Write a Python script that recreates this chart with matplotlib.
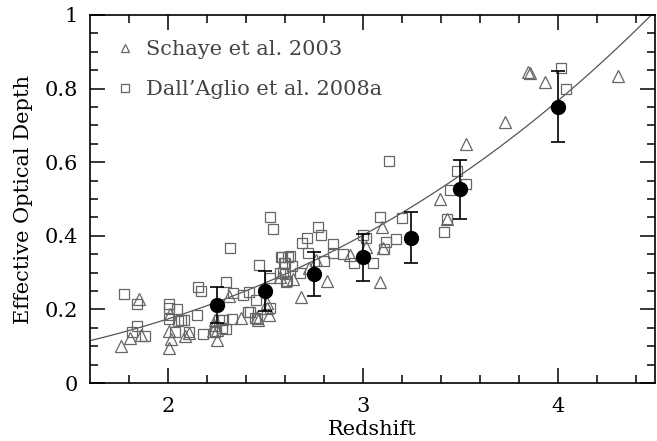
import numpy as np
import matplotlib
matplotlib.use("Agg")
import matplotlib.pyplot as plt

# Schaye et al. 2003 (triangles)
schaye_z = [1.76, 1.807, 1.85, 1.863, 2.003, 2.007, 2.009, 2.017, 2.089, 2.108,
            2.24, 2.235, 2.25, 2.23, 2.25, 2.314, 2.373, 2.455, 2.463, 2.51,
            2.51, 2.52, 2.574, 2.64, 2.682, 2.725, 2.762, 2.817, 2.933, 3.019,
            3.099, 3.104, 3.09, 3.395, 3.433, 3.528, 3.728, 3.85, 3.86, 3.933, 4.31]
schaye_tau = [0.100, 0.121, 0.228, 0.130, 0.141, 0.094, 0.187, 0.119, 0.128, 0.135,
              0.171, 0.158, 0.144, 0.141, 0.117, 0.236, 0.176, 0.180, 0.171, 0.217,
              0.203, 0.185, 0.289, 0.283, 0.233, 0.312, 0.334, 0.277, 0.348, 0.370,
              0.425, 0.366, 0.274, 0.500, 0.447, 0.649, 0.708, 0.845, 0.842, 0.817, 0.833]

# Dall'Aglio et al. 2008a (squares)
dall_z = [1.773, 1.841, 1.84, 1.815, 1.884, 2.007, 2.005, 2.048, 2.005, 2.038,
          2.05, 2.065, 2.08, 2.11, 2.154, 2.17, 2.15, 2.18, 2.24, 2.30,
          2.32, 2.335, 2.383, 2.417, 2.45, 2.468, 2.33, 2.41, 2.42, 2.446,
          2.455, 2.523, 2.523, 2.523, 2.54, 2.574, 2.578, 2.60, 2.60, 2.608,
          2.617, 2.583, 2.626, 2.597, 2.637, 2.59, 2.61, 2.677, 2.686, 2.716,
          2.72, 2.77, 2.785, 2.80, 2.845, 2.848, 2.896, 2.955, 3.00, 3.019,
          3.053, 3.09, 3.108, 3.121, 3.133, 3.173, 3.20, 3.417, 3.43, 3.449,
          3.485, 3.53, 4.019, 4.041, 2.263, 2.283, 2.275, 2.297]
dall_tau = [0.241, 0.215, 0.155, 0.139, 0.129, 0.214, 0.205, 0.202, 0.173, 0.139,
            0.168, 0.170, 0.171, 0.138, 0.261, 0.251, 0.185, 0.132, 0.138, 0.274,
            0.367, 0.244, 0.240, 0.248, 0.226, 0.321, 0.174, 0.194, 0.192, 0.176,
            0.173, 0.203, 0.284, 0.452, 0.418, 0.298, 0.343, 0.327, 0.296, 0.275,
            0.343, 0.342, 0.345, 0.327, 0.319, 0.298, 0.277, 0.298, 0.380, 0.393,
            0.352, 0.425, 0.402, 0.332, 0.377, 0.352, 0.350, 0.327, 0.402, 0.393,
            0.325, 0.450, 0.363, 0.382, 0.603, 0.391, 0.449, 0.411, 0.447, 0.524,
            0.576, 0.542, 0.855, 0.798, 0.171, 0.171, 0.149, 0.147]

# Binned measurements
bin_z = [2.25, 2.5, 2.75, 3.0, 3.25, 3.5, 4.0]
bin_tau = [0.212, 0.251, 0.296, 0.342, 0.395, 0.526, 0.751]
bin_err = [0.050, 0.054, 0.060, 0.064, 0.070, 0.080, 0.097]

# Power-law fit tau = A (1+z)^beta
fit_A = 0.0072
fit_beta = 2.9

plt.rcParams['font.family'] = ['DejaVu Serif']
fig = plt.figure(figsize=(6.57, 4.41), dpi=100)
ax = fig.add_axes([0.137, 0.1315, 0.860, 0.8345])

zz = np.linspace(1.6, 4.5, 300)
ax.plot(zz, fit_A * (1 + zz) ** fit_beta, color='#555555', lw=0.9, zorder=2)

gray = '#666666'
ax.plot(schaye_z, schaye_tau, linestyle='none', marker='^', ms=8, mfc='none',
        mec=gray, mew=0.9, label='Schaye et al. 2003', zorder=3)
ax.plot(dall_z, dall_tau, linestyle='none', marker='s', ms=6.5, mfc='none',
        mec=gray, mew=0.9, label="Dall\u2019Aglio et al. 2008a", zorder=3)

ax.errorbar(bin_z, bin_tau, yerr=bin_err, fmt='o', color='black', ms=10,
            capsize=5, elinewidth=1.2, capthick=1.2, zorder=5)

ax.set_xlim(1.6, 4.5)
ax.set_ylim(0, 1)
ax.set_xticks([2, 3, 4])
ax.set_xticklabels(['2', '3', '4'])
ax.set_xticks(np.arange(1.8, 4.5, 0.2), minor=True)
ax.set_yticks([0, 0.2, 0.4, 0.6, 0.8, 1.0])
ax.set_yticklabels(['0', '0.2', '0.4', '0.6', '0.8', '1'])
ax.set_yticks(np.arange(0, 1.0001, 0.05), minor=True)
ax.tick_params(which='both', direction='in', top=True, right=True, labelsize=15,
               width=1.1)
ax.tick_params(which='major', length=11)
ax.tick_params(axis='y', which='major', pad=9)
ax.tick_params(axis='x', which='major', pad=10)
ax.tick_params(which='minor', length=6)
for s in ax.spines.values():
    s.set_linewidth(1.2)

ax.set_xlabel('Redshift', fontsize=15, labelpad=3)
ax.set_ylabel('Effective Optical Depth', fontsize=15, labelpad=8)

leg = ax.legend(loc='upper left', frameon=False, fontsize=15, handlelength=1.0,
                handletextpad=0.5, borderaxespad=0.8, labelspacing=1.0,
                markerscale=0.8)
for t in leg.get_texts():
    t.set_color('#444444')

fig.savefig('out.png', dpi=100)
